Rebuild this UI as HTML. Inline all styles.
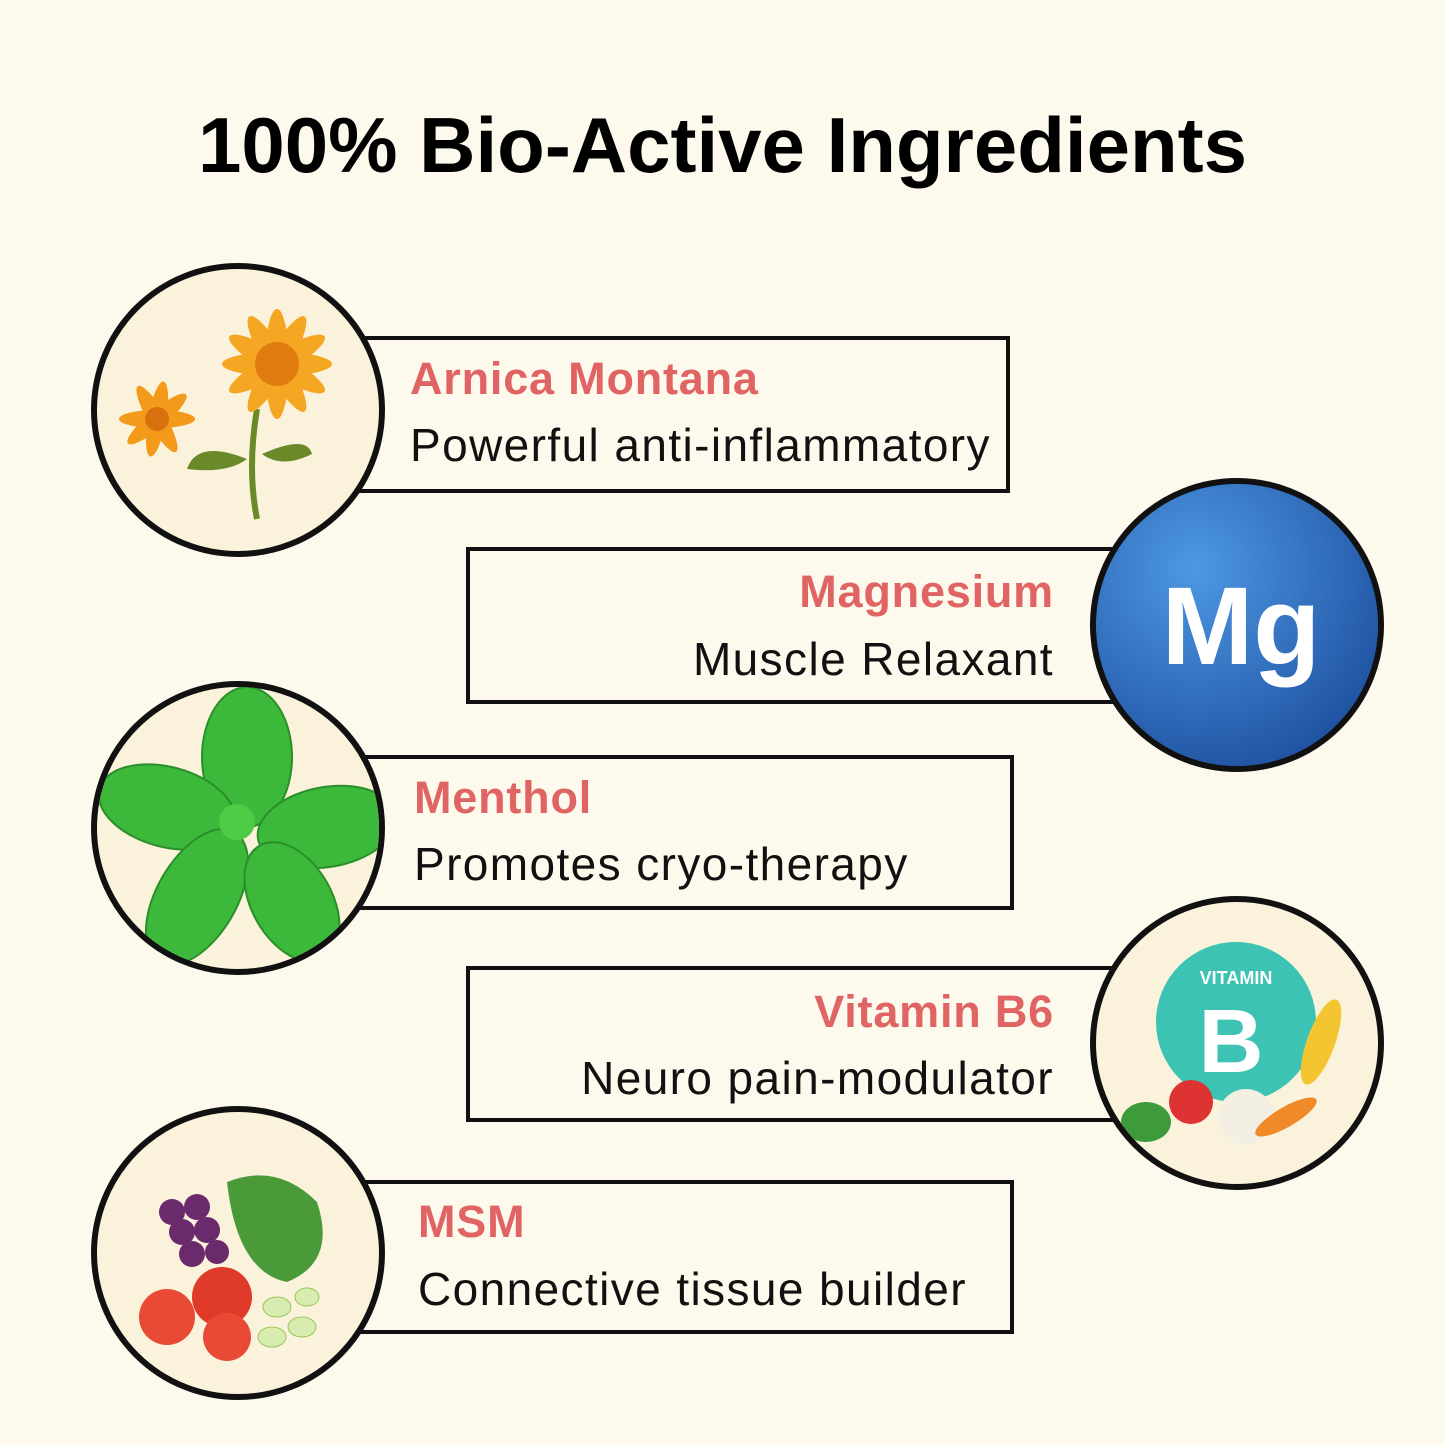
<!DOCTYPE html>
<html><head><meta charset="utf-8"><style>
body{margin:0;width:1445px;height:1445px;background:#fdf9ec;position:relative;overflow:hidden;font-family:"Liberation Sans",sans-serif}
.t{position:absolute;left:0;width:1445px;top:100px;text-align:center;font-size:78px;font-weight:bold;letter-spacing:0px;color:#000}
.box{position:absolute;border:4px solid #111;background:#fdf9ec;box-sizing:border-box}
.c{position:absolute;width:294px;height:294px;border:6px solid #111;border-radius:50%;box-sizing:border-box;background:#fbf2dc;overflow:hidden}
.n{position:absolute;font-size:45px;font-weight:bold;color:#e06464;white-space:nowrap;letter-spacing:0.8px}
.d{position:absolute;font-size:46px;color:#111;white-space:nowrap;letter-spacing:1.4px}
.r{text-align:right}
</style></head><body>
<div class="t">100% Bio-Active Ingredients</div>

<div class="box" style="left:355px;top:336px;width:655px;height:157px"></div>
<div class="n" style="left:410px;top:353px">Arnica Montana</div>
<div class="d" style="left:410px;top:418px">Powerful anti-inflammatory</div>

<div class="box" style="left:466px;top:547px;width:655px;height:157px"></div>
<div class="n r" style="left:560px;width:494px;top:566px">Magnesium</div>
<div class="d r" style="left:560px;width:494px;top:632px">Muscle Relaxant</div>

<div class="box" style="left:355px;top:755px;width:659px;height:155px"></div>
<div class="n" style="left:414px;top:772px">Menthol</div>
<div class="d" style="left:414px;top:837px">Promotes cryo-therapy</div>

<div class="box" style="left:466px;top:966px;width:655px;height:156px"></div>
<div class="n r" style="left:520px;width:534px;top:986px">Vitamin B6</div>
<div class="d r" style="left:520px;width:534px;top:1051px">Neuro pain-modulator</div>

<div class="box" style="left:355px;top:1180px;width:659px;height:154px"></div>
<div class="n" style="left:418px;top:1196px">MSM</div>
<div class="d" style="left:418px;top:1262px">Connective tissue builder</div>

<div class="c" style="left:91px;top:263px">
<svg width="282" height="282" viewBox="0 0 282 282">
<path d="M160 140 Q150 200 160 250" stroke="#6a8a2a" stroke-width="6" fill="none"/>
<path d="M150 190 Q100 170 90 200 Q130 205 150 190Z" fill="#6a8a2a"/>
<path d="M165 185 Q210 165 215 185 Q185 200 165 185Z" fill="#6a8a2a"/>
<g transform="translate(180,95)"><g fill="#f5a623">
<ellipse rx="12" ry="55" /><ellipse rx="12" ry="55" transform="rotate(30)"/><ellipse rx="12" ry="55" transform="rotate(60)"/><ellipse rx="12" ry="55" transform="rotate(90)"/><ellipse rx="12" ry="55" transform="rotate(120)"/><ellipse rx="12" ry="55" transform="rotate(150)"/></g>
<circle r="22" fill="#e07b10"/></g>
<g transform="translate(60,150)"><g fill="#f39a1a">
<ellipse rx="9" ry="38" transform="rotate(-30)"/><ellipse rx="9" ry="38" transform="rotate(10)"/><ellipse rx="9" ry="38" transform="rotate(50)"/><ellipse rx="9" ry="38" transform="rotate(90)"/></g>
<circle r="12" fill="#d9700e"/></g>
</svg></div>

<div class="c" style="left:1090px;top:478px;background:#2a66bb">
<svg width="282" height="282" viewBox="0 0 282 282" style="position:absolute;left:0;top:0">
<defs><radialGradient id="g" cx="0.35" cy="0.3" r="0.8"><stop offset="0" stop-color="#4d98e3"/><stop offset="1" stop-color="#1d4f9e"/></radialGradient></defs>
<circle cx="141" cy="141" r="141" fill="url(#g)"/>
<text x="145" y="180" text-anchor="middle" font-family="Liberation Sans" font-weight="bold" font-size="110" fill="#fff">Mg</text>
</svg></div>

<div class="c" style="left:91px;top:681px">
<svg width="282" height="282" viewBox="0 0 282 282">
<g fill="#3cb83a" stroke="#2a8f2a" stroke-width="2">
<ellipse cx="150" cy="70" rx="45" ry="70" />
<ellipse cx="70" cy="120" rx="70" ry="40" transform="rotate(15 70 120)"/>
<ellipse cx="230" cy="140" rx="70" ry="40" transform="rotate(-10 230 140)"/>
<ellipse cx="100" cy="210" rx="40" ry="75" transform="rotate(30 100 210)"/>
<ellipse cx="195" cy="215" rx="40" ry="65" transform="rotate(-30 195 215)"/>
</g><circle cx="140" cy="135" r="18" fill="#4fcc46"/>
</svg></div>

<div class="c" style="left:1090px;top:896px">
<svg width="282" height="282" viewBox="0 0 282 282">
<circle cx="140" cy="120" r="80" fill="#3cc3b3"/>
<text x="140" y="82" text-anchor="middle" font-family="Liberation Sans" font-weight="bold" font-size="18" fill="#fff">VITAMIN</text>
<text x="135" y="170" text-anchor="middle" font-family="Liberation Sans" font-weight="bold" font-size="90" fill="#fff">B</text>
<circle cx="95" cy="200" r="22" fill="#d33"/><circle cx="150" cy="215" r="28" fill="#f4efe3"/>
<ellipse cx="190" cy="215" rx="35" ry="10" fill="#f08a28" transform="rotate(-30 190 215)"/>
<ellipse cx="225" cy="140" rx="14" ry="45" fill="#f2c531" transform="rotate(20 225 140)"/>
<ellipse cx="50" cy="220" rx="25" ry="20" fill="#3e9b3a"/>
</svg></div>

<div class="c" style="left:91px;top:1106px">
<svg width="282" height="282" viewBox="0 0 282 282">
<path d="M130 70 Q180 50 220 90 Q240 150 190 170 Q140 160 130 70Z" fill="#4a9a3a"/>
<g fill="#6b2a6b"><circle cx="75" cy="100" r="13"/><circle cx="100" cy="95" r="13"/><circle cx="85" cy="120" r="13"/><circle cx="110" cy="118" r="13"/><circle cx="95" cy="142" r="13"/><circle cx="120" cy="140" r="12"/></g>
<circle cx="125" cy="185" r="30" fill="#e03a2a"/><circle cx="70" cy="205" r="28" fill="#e84a35"/><circle cx="130" cy="225" r="24" fill="#e84a35"/>
<g fill="#d9ecb0" stroke="#9cc45c"><ellipse cx="180" cy="195" rx="14" ry="10"/><ellipse cx="205" cy="215" rx="14" ry="10"/><ellipse cx="175" cy="225" rx="14" ry="10"/><ellipse cx="210" cy="185" rx="12" ry="9"/></g>
</svg></div>
</body></html>
